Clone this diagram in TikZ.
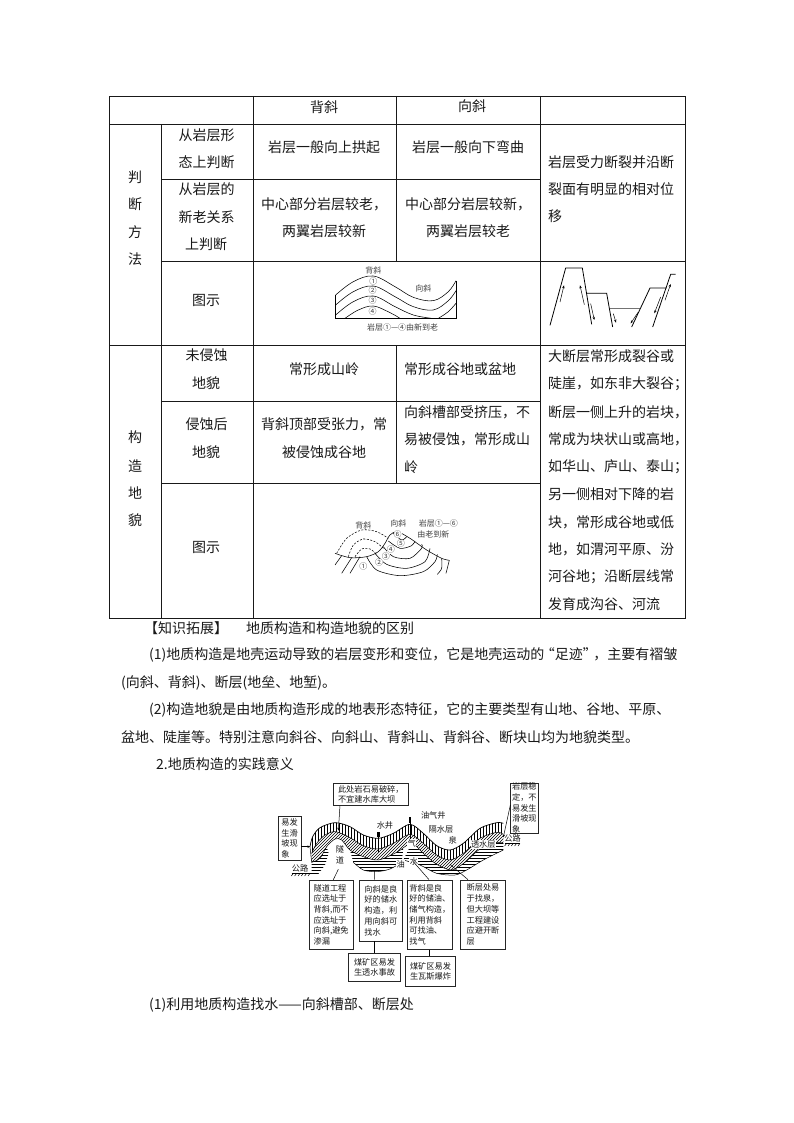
\documentclass[tikz,border=0pt]{standalone}
\usepackage{fontspec}
\setmainfont{Noto Sans CJK SC}
\usetikzlibrary{patterns,arrows.meta}
\tikzset{
  tline/.style={line width=0.8pt,black!90},
  txt/.style={font=\fontsize{14}{16}\selectfont,inner sep=0pt,text=black!90},
  dl/.style={font=\fontsize{8}{9}\selectfont,inner sep=0pt,text=black!75},
  geo/.style={line width=0.55pt,black},
  gbox/.style={draw=black!85,line width=0.7pt,fill=white,font=\fontsize{8.2}{10.7}\selectfont,align=left,inner sep=0pt,text=black!90},
  gl/.style={font=\fontsize{8.2}{10}\selectfont,inner sep=0.4pt,text=black!90},
  garrow/.style={line width=0.5pt,-{Stealth[length=3pt,width=2.4pt]}},
  gline/.style={line width=0.5pt},
}
\newcommand{\TC}[4]{\node[txt] (#1) at (#2,#3) {#4};}
\newcommand{\TL}[4]{\node[txt,anchor=west] (#1) at (#2,#3) {#4};}
\newcommand{\GB}[6]{\node[gbox,minimum width={(#4-#2)*1pt},minimum height={(#5-#3)*1pt}] (#1) at ({(#2+#4)/2},{(#3+#5)/2}) {#6};}
\begin{document}
\begin{tikzpicture}[x=1pt,y=-1pt]
\useasboundingbox (0,0) rectangle (794,1123);
\fill[white] (0,0) rectangle (794,1123);
% table
\draw[tline] (109.5,96) rectangle (685,618);
\draw[tline] (109.5,124) -- (685,124);
\draw[tline] (161.7,179) -- (540,179);
\draw[tline] (161.7,261.7) -- (685,261.7);
\draw[tline] (109.5,345.5) -- (685,345.5);
\draw[tline] (161.7,401) -- (540,401);
\draw[tline] (161.7,483.3) -- (540,483.3);
\draw[tline] (161.7,124) -- (161.7,618);
\draw[tline] (253.3,96) -- (253.3,618);
\draw[tline] (396,96) -- (396,261.7);
\draw[tline] (396,345.5) -- (396,483.3);
\draw[tline] (540,96) -- (540,618);
% table text
\TC{h1}{324}{107}{背斜}
\TC{h2}{472}{106}{向斜}
\TC{a1}{135}{177}{判}\TC{a2}{135}{204}{断}\TC{a3}{135}{232}{方}\TC{a4}{135}{259}{法}
\TC{b1}{206.5}{135}{从岩层形}\TC{b2}{206.5}{162}{态上判断}
\TC{c1}{206.5}{189}{从岩层的}\TC{c2}{206.5}{217}{新老关系}\TC{c3}{206}{244}{上判断}
\TC{d1}{206}{300}{图示}
\TC{e1}{324}{147}{岩层一般向上拱起}
\TC{e2}{468}{147}{岩层一般向下弯曲}
\TC{f1}{324}{204}{中心部分岩层较老，}\TC{f2}{324}{231}{两翼岩层较新}
\TC{g1}{468}{204}{中心部分岩层较新，}\TC{g2}{468}{231}{两翼岩层较老}
\TL{i1}{548}{162}{岩层受力断裂并沿断}\TL{i2}{548}{189}{裂面有明显的相对位}\TL{i3}{548}{216}{移}
\TC{j1}{135}{437}{构}\TC{j2}{135}{466}{造}\TC{j3}{135}{493}{地}\TC{j4}{135}{520}{貌}
\TC{k1}{206.5}{355}{未侵蚀}\TC{k2}{206}{383}{地貌}
\TC{l1}{206.5}{424}{侵蚀后}\TC{l2}{206}{452}{地貌}
\TC{m1}{206}{547}{图示}
\TC{n1}{324}{369}{常形成山岭}
\TL{n2}{404}{369}{常形成谷地或盆地}
\TC{o1}{324}{424}{背斜顶部受张力，常}\TC{o2}{324}{452}{被侵蚀成谷地}
\TL{p1}{404}{412}{向斜槽部受挤压，不}\TL{p2}{404}{439}{易被侵蚀，常形成山}\TL{p3}{404}{467}{岭}
\TL{q1}{548}{356}{大断层常形成裂谷或}
\TL{q2}{548}{384}{陡崖，如东非大裂谷；}
\TL{q3}{548}{412}{断层一侧上升的岩块，}
\TL{q4}{548}{439}{常成为块状山或高地，}
\TL{q5}{548}{467}{如华山、庐山、泰山；}
\TL{q6}{548}{494}{另一侧相对下降的岩}
\TL{q7}{548}{522}{块，常形成谷地或低}
\TL{q8}{548}{549}{地，如渭河平原、汾}
\TL{q9}{548}{577}{河谷地；沿断层线常}
\TL{q10}{548}{604}{发育成沟谷、河流}
% paragraphs
\TL{r1}{144}{628}{【知识拓展】}
\TL{r2}{246}{628}{地质构造和构造地貌的区别}
\TL{r3}{149}{655}{(1)地质构造是地壳运动导致的岩层变形和变位，它是地壳运动的\kern-3.5pt“足迹”\kern-3.5pt，主要有褶皱}
\TL{r4}{121}{683}{(向斜、背斜)、断层(地垒、地堑)。}
\TL{r5}{149}{710}{(2)构造地貌是由地质构造形成的地表形态特征，它的主要类型有山地、谷地、平原、}
\TL{r6}{121}{737}{盆地、陡崖等。特别注意向斜谷、向斜山、背斜山、背斜谷、断块山均为地貌类型。}
\TL{r7}{156}{764}{2.地质构造的实践意义}
\TL{r8}{149}{1005}{(1)利用地质构造找水——向斜槽部、断层处}
% fold diagram
\begin{scope}[shift={(320,260)},scale=0.3333]
\draw[geo] (47,105) -- (47,175) -- (408,175) -- (408,62);
\draw[geo] plot[smooth,tension=0.6] coordinates {(47,105) (100,65) (160,48) (225,80) (280,112) (340,122) (385,95) (408,62)};
\draw[geo] plot[smooth,tension=0.6] coordinates {(47,135) (100,95) (160,78) (225,110) (280,140) (340,150) (385,122) (408,92)};
\draw[geo] plot[smooth,tension=0.6] coordinates {(47,165) (100,125) (160,108) (225,140) (280,165) (335,175)};
\draw[geo] plot[smooth,tension=0.6] coordinates {(75,175) (115,150) (160,138) (210,158) (240,175)};
\draw[geo] plot[smooth,tension=0.6] coordinates {(355,175) (385,155) (408,130)};
\node[dl,fill=white] (f1) at (160,30) {背斜};
\node[dl,fill=white] (f2) at (160,63) {①};
\node[dl,fill=white] (f3) at (158,92) {②};
\node[dl,fill=white] (f4) at (158,122) {③};
\node[dl,fill=white] (f5) at (158,155) {④};
\node[dl] (f6) at (310,85) {向斜};
\node[dl] (f7) at (248,203) {岩层①—④由新到老};
\end{scope}
% fault diagram
\begin{scope}[shift={(540,262)},scale=0.3333]
\draw[geo,line width=0.8pt] (30,190) -- (77,18) -- (127,18) -- (155,187);
\draw[geo,line width=0.8pt] (140,94) -- (200,94) -- (218,195);
\draw[geo,line width=1.2pt,black!55] (210,140) -- (300,140);
\draw[geo,line width=0.8pt] (275,195) -- (330,78) -- (380,78);
\draw[geo,line width=0.8pt] (338,195) -- (392,37) -- (407,37);
\draw[garrow] (60,120) -- (72,70);
\draw[garrow] (133,128) -- (120,70);
\draw[garrow] (152,125) -- (163,174);
\draw[garrow] (220,155) -- (228,182);
\draw[garrow] (295,150) -- (272,184);
\draw[garrow] (362,105) -- (343,154);
\draw[garrow] (375,115) -- (392,66);
\end{scope}
% eroded fold diagram
\begin{scope}[shift={(320,505)},scale=0.3333]
\draw[geo,dashed,dash pattern=on 2pt off 1.5pt] plot[smooth] coordinates {(50,145) (80,100) (125,75) (170,80) (205,100)};
\draw[geo,dashed,dash pattern=on 2pt off 1.5pt] plot[smooth] coordinates {(85,155) (100,120) (130,102) (165,110) (190,130)};
\draw[geo,dashed,dash pattern=on 2pt off 1.5pt] plot[smooth] coordinates {(105,155) (125,132) (150,132) (170,148)};
\draw[geo] plot[smooth,tension=0.5] coordinates {(45,145) (90,158) (140,155) (175,140) (195,115) (210,90) (232,80) (270,100) (320,135) (365,160) (388,166)};
\draw[geo] (45,180) -- (65,152);
\draw[geo] (65,205) -- (95,158);
\draw[geo] (90,205) -- (120,155);
\draw[geo] plot[smooth] coordinates {(140,155) (170,195) (240,212) (310,200) (345,170) (352,148)};
\draw[geo] plot[smooth] coordinates {(165,145) (200,178) (260,190) (315,170) (330,130)};
\draw[geo] plot[smooth] coordinates {(190,125) (220,155) (270,160) (305,130) (305,118)};
\draw[geo] plot[smooth] coordinates {(205,108) (240,130) (275,122) (285,108)};
\draw[geo] plot[smooth] coordinates {(220,85) (245,105) (260,95)};
\draw[geo] plot[smooth] coordinates {(352,208) (365,190) (365,160)};
\draw[geo] (388,166) -- (378,205);
\node[dl] (e1) at (130,62) {背斜};
\node[dl] (e2) at (235,55) {向斜};
\node[dl] (e3) at (355,55) {岩层①—⑥};
\node[dl] (e4) at (340,88) {由老到新};
\node[dl,fill=white] (e5) at (233,88) {⑥};
\node[dl,fill=white] (e6) at (243,115) {⑤};
\node[dl,fill=white] (e7) at (213,133) {④};
\node[dl,fill=white] (e8) at (198,155) {③};
\node[dl,fill=white] (e9) at (177,172) {②};
\node[dl,fill=white] (e10) at (130,185) {①};
\end{scope}
% geological section
\begin{scope}[shift={(270,775)},scale=0.3333]
% vertical band
\path[pattern=vertical lines] plot[smooth] coordinates {(120,215) (128,185) (150,158) (195,143) (240,155) (280,180) (325,190) (370,175) (420,148) (460,175) (500,212) (540,225) (580,205) (630,160) (680,143) (700,145)} -- plot[smooth] coordinates {(700,178) (680,172) (630,190) (580,235) (540,255) (500,240) (460,205) (420,178) (370,205) (325,222) (280,212) (235,185) (195,170) (165,180) (140,205) (125,235)} -- cycle;
% diagonal band
\path[pattern=north east lines] plot[smooth] coordinates {(125,235) (140,205) (165,180) (195,170) (235,185) (280,212) (325,222) (370,205) (420,178) (460,205) (500,240) (540,255) (580,235) (630,190) (680,172) (700,178)} -- plot[smooth] coordinates {(700,205) (680,203) (630,222) (585,262) (545,285) (500,268) (460,235) (425,205) (380,232) (325,255) (280,245) (240,225) (215,195) (195,192) (170,215) (150,250) (125,262)} -- cycle;
% horizontal regions
\path[pattern=horizontal lines] (150,250) -- (170,215) -- (176,235) -- (165,270) -- (145,297) -- (125,297) -- (125,262) -- cycle;
\path[pattern=horizontal lines] plot[smooth] coordinates {(240,225) (280,245) (325,255) (380,232) (400,220)} -- plot[smooth] coordinates {(395,262) (360,282) (320,290) (280,285) (250,262)} -- cycle;
\path[pattern=horizontal lines] plot[smooth] coordinates {(425,205) (460,235) (500,268) (545,285) (585,262) (630,222) (680,203) (700,205)} -- plot[smooth] coordinates {(700,225) (640,255) (590,285) (555,300) (500,295) (450,270) (400,255)} -- cycle;
% outlines
\draw[gline,line width=0.7pt] plot[smooth] coordinates {(120,215) (128,185) (150,158) (195,143) (240,155) (280,180) (325,190) (370,175) (420,148) (460,175) (500,212) (540,225) (580,205) (630,160) (680,143) (700,145)};
\draw[gline] plot[smooth] coordinates {(125,235) (140,205) (165,180) (195,170) (235,185) (280,212) (325,222) (370,205) (420,178) (460,205) (500,240) (540,255) (580,235) (630,190) (680,172) (700,178)};
\draw[gline] plot[smooth] coordinates {(125,262) (150,250) (170,215) (195,192) (215,195) (240,225) (280,245) (325,255) (380,232) (425,205) (460,235) (500,268) (545,285) (585,262) (630,222) (680,203) (700,205)};
\draw[gline] plot[smooth] coordinates {(250,262) (280,285) (320,290) (360,282) (395,262)};
\draw[gline] plot[smooth] coordinates {(400,255) (450,270) (500,295) (555,300) (590,285) (640,255) (700,225)};
\draw[gline] (120,215) -- (125,262);
% wells
\draw[gline,line width=0.9pt] (325,230) -- (325,178);
\fill (322,172) rectangle (329,185);
\draw[gline,line width=0.9pt] (420,215) -- (420,135);
\fill (417,127) rectangle (424,145);
% ground
\draw[gline,line width=0.7pt] (65,295) -- (125,295);
\foreach \i in {70,80,...,120} \draw[gline] (\i,295) -- (\i-6,303);
\draw[gline,line width=0.7pt] (705,205) -- (750,205);
\foreach \i in {710,720,...,750} \draw[gline] (\i,205) -- (\i-6,213);
% labels
\node[gl] (s1) at (345,150) {水井};
\node[gl] (s2) at (490,122) {油气井};
\node[gl] (s3) at (513,162) {隔水层};
\node[gl,fill=white] (s4) at (548,197) {泉};
\node[gl,fill=white] (s5) at (640,208) {透水层};
\node[gl] (s6) at (728,190) {公路};
\node[gl] (s7) at (90,280) {公路};
\node[gl] (s8) at (210,222) {隧};
\node[gl] (s9) at (210,255) {道};
\node[gl,fill=white] (s10) at (392,268) {油};
\node[gl,fill=white] (s11) at (432,258) {水};
\node[gl,fill=white] (s12) at (425,205) {气};
\coordinate (topend) at (205,167);
\coordinate (leftend) at (121,215);
\coordinate (rightend) at (700,187);
\coordinate (leadb1) at (205,283);
\coordinate (leadb2) at (313,287);
\coordinate (leadb3) at (430,260);
\coordinate (leadb4) at (540,268);
\end{scope}
% boxes
\GB{bt}{333.3}{783.3}{408.3}{805.7}{此处岩石易破碎，\\不宜建水库大坝}
\GB{bl}{278.3}{816.7}{301}{860}{易发\\生滑\\坡现\\象}
\GB{br}{510.7}{783}{538}{833}{岩层稳\\定，不\\易发生\\滑坡现\\象}
\GB{b1x}{309}{880}{353.3}{949.3}{隧道工程\\应选址于\\背斜,而不\\应选址于\\向斜,避免\\渗漏}
\GB{b2x}{359.3}{880}{402.3}{941}{向斜是良\\好的储水\\构造，利\\用向斜可\\找水}
\GB{b3x}{407.7}{880}{452}{949.3}{背斜是良\\好的储油、\\储气构造，\\利用背斜\\可找油、\\找气}
\GB{b4x}{460.7}{880}{505.3}{949.3}{断层处易\\于找泉，\\但大坝等\\工程建设\\应避开断\\层}
\GB{b5x}{348.3}{953.3}{400.7}{981.7}{煤矿区易发\\生透水事故}
\GB{b6x}{405.3}{956.7}{455.7}{986}{煤矿区易发\\生瓦斯爆炸}
% connectors
\draw[garrow] (bt.south west) ++(7,0) -- (topend);
\draw[garrow] (bl.east |- leftend) -- (leftend);
\draw[garrow] (br.west) ++(0,-3) -- (rightend);
\draw[gline] (leadb1) -- (b1x.north -| 333.3,0);
\draw[gline] (leadb2) -- (b2x.north -| 374.3,0);
\draw[gline] (leadb3) -- (b3x.north -| 429,0);
\draw[gline] (leadb4) -- (b4x.north -| 468,0);
\draw[gline] (b2x.south -| 374.3,0) -- (b5x.north -| 374.3,0);
\draw[gline] (b3x.south -| 429.3,0) -- (b6x.north -| 429.3,0);
\end{tikzpicture}
\end{document}
